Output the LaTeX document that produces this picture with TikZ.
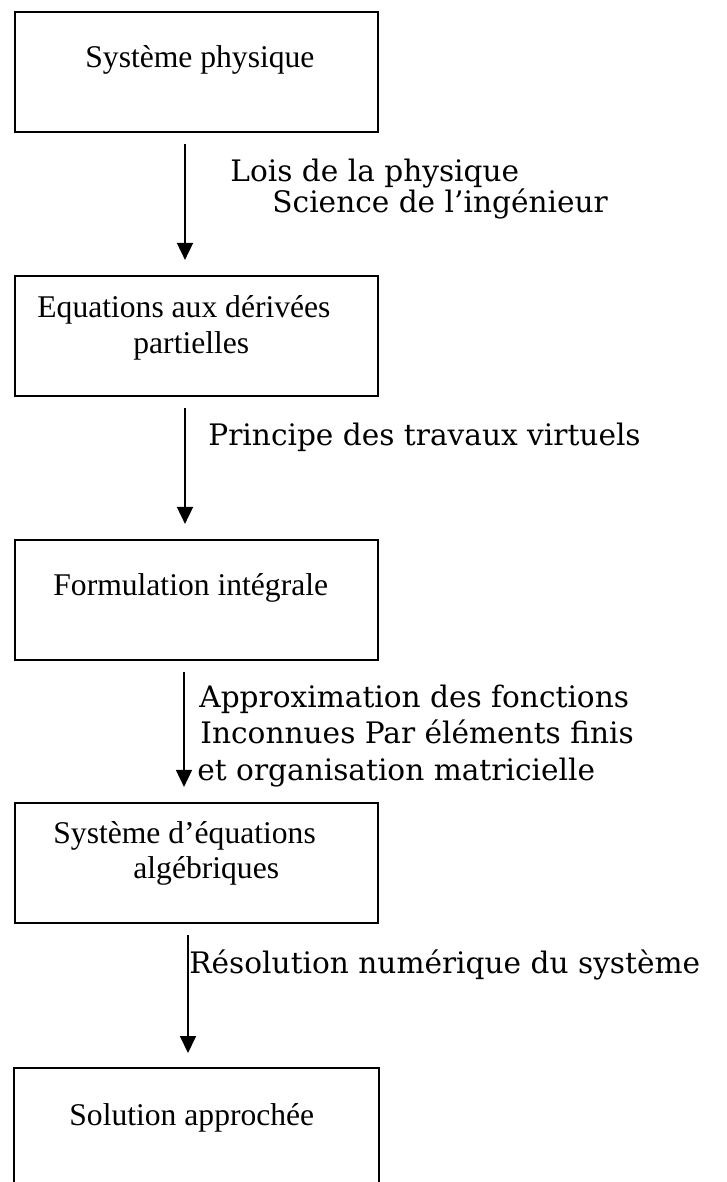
\documentclass[tikz,border=0pt]{standalone}
\usepackage{fontspec}
\setmainfont{Liberation Serif}
\newfontfamily\stepfont{DejaVu Serif}
\usetikzlibrary{positioning}
\usetikzlibrary{arrows.meta}
\usetikzlibrary{math}

\tikzset{
  box/.style={draw, line width=1.1pt, minimum width=181.5pt,
    minimum height=60pt, inner sep=0pt},
  boxtext/.style={anchor=base west, inner sep=0pt,
    font=\fontsize{15.8}{19}\selectfont},
  steptext/.style={anchor=base west, inner sep=0pt,
    font=\stepfont\fontsize{14.8}{18}\selectfont},
  flow/.style={line width=0.9pt, shorten <=5.5pt, shorten >=7.5pt,
    -{Triangle[width=8pt,length=8.5pt]}},
}

\begin{document}
\begin{tikzpicture}[x=0.5pt,y=-0.5pt]

  \tikzmath{
    \bx = 196.5; % centre of the boxes
  }

  \useasboundingbox (0,0) rectangle (727,1182);

  % the chain of boxes
  \node[box] (sys)  at (\bx, 72)  {};
  \node[box] (edp)  at (\bx, 336) {};
  \node[box] (form) at (\bx, 600) {};
  \node[box] (alg)  at (\bx, 863) {};

  % last box is open at the bottom
  \node[box, draw=none, minimum height=64pt, anchor=north] (sol) at (\bx, 1068) {};
  \draw[line width=1.1pt] (sol.south west) -- (sol.north west)
    -- (sol.north east) -- (sol.south east);

  % texts inside the boxes
  \node[boxtext] (sys-t)   at (85, 68)   {Système physique};
  \node[boxtext] (edp-t)   at (37, 317)  {Equations aux dérivées};
  \node[boxtext] (edp-t2)  at (133, 353) {partielles};
  \node[boxtext] (form-t)  at (53, 595)  {Formulation intégrale};
  \node[boxtext] (alg-t)   at (53, 843)  {Système d’équations};
  \node[boxtext] (alg-t2)  at (133, 878) {algébriques};
  \node[boxtext] (sol-t)   at (69, 1125) {Solution approchée};

  % arrows between the boxes
  \foreach \from/\to/\ax in {sys/edp/185, edp/form/185, form/alg/184, alg/sol/188}
    \draw[flow] (\from.south -| \ax,0) -- (\to.north -| \ax,0);

  % what each step does
  \node[steptext] (lois)    at (230, 182) {Lois de la physique};
  \node[steptext] (science) at (272, 213) {Science de l’ingénieur};
  \node[steptext] (ptv)     at (208, 445) {Principe des travaux virtuels};
  \node[steptext] (approx1) at (199, 707) {Approximation des fonctions};
  \node[steptext] (approx2) at (200, 743) {Inconnues Par éléments finis};
  \node[steptext] (approx3) at (197, 780) {et organisation matricielle};
  \node[steptext] (resol)   at (189, 973) {Résolution numérique du système};

\end{tikzpicture}
\end{document}
